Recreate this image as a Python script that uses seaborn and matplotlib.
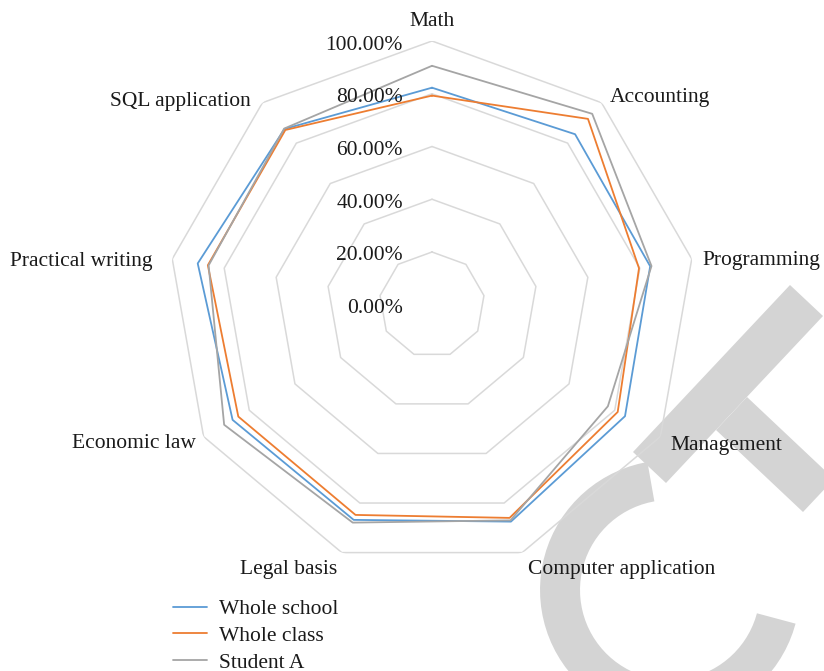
import numpy as np
import pandas as pd
import matplotlib
matplotlib.use("Agg")
import matplotlib.pyplot as plt
from matplotlib.patches import Polygon
import seaborn as sns

# Subject scores (share of full marks)
categories = ["Math", "Accounting", "Programming", "Management",
              "Computer application", "Legal basis", "Economic law",
              "Practical writing", "SQL application"]
whole_school = [0.823, 0.844, 0.840, 0.845, 0.875, 0.868, 0.873, 0.902, 0.870]
whole_class = [0.793, 0.920, 0.797, 0.813, 0.860, 0.848, 0.848, 0.863, 0.865]
student_a = [0.906, 0.945, 0.845, 0.770, 0.870, 0.879, 0.910, 0.860, 0.872]
series_names = ["Whole school", "Whole class", "Student A"]
ring_levels = [0.0, 0.2, 0.4, 0.6, 0.8, 1.0]
ring_labels = ["0.00%", "20.00%", "40.00%", "60.00%", "80.00%", "100.00%"]

colors = {"Whole school": "#5B9BD5", "Whole class": "#ED7D31", "Student A": "#A5A5A5"}
grid_color = "#D9D9D9"
FS = 15.5

sns.set_theme(style="white")
plt.rcParams["font.family"] = ["Liberation Serif", "DejaVu Serif"]
plt.rcParams["text.color"] = "#1a1a1a"

W, H = 824, 671
fig = plt.figure(figsize=(W / 100, H / 100), dpi=100)
fig.patch.set_facecolor("white")


def fpos(x, y):
    return (x / W, 1 - y / H)


# Background watermark letters (pixel outlines, y measured from the top)
wm = "#D4D4D4"
letter_t = [
    [(633, 452), (790, 285), (823, 316), (666, 483)],
    [(747, 397), (834, 479), (803, 512), (716, 430)],
]
arc_deg = np.linspace(100, 345, 60)
c_out = [(670 + 130 * np.cos(np.radians(a)), 590 - 130 * np.sin(np.radians(a))) for a in arc_deg]
c_in = [(670 + 90 * np.cos(np.radians(a)), 590 - 90 * np.sin(np.radians(a))) for a in arc_deg[::-1]]
for pts in letter_t + [c_out + c_in]:
    fig.add_artist(Polygon([fpos(*p) for p in pts], closed=True,
                           transform=fig.transFigure, facecolor=wm,
                           edgecolor="none", zorder=-5))

cx, cy, R = 432, 304.75, 263.75
ax = fig.add_axes([(cx - R) / W, (H - cy - R) / H, 2 * R / W, 2 * R / H],
                  projection="polar")
ax.set_theta_offset(np.pi / 2)
ax.set_theta_direction(-1)
ax.set_ylim(0, 1)
ax.grid(False)
ax.spines["polar"].set_visible(False)
ax.set_xticks([])
ax.set_yticks([])
ax.patch.set_alpha(0)

n = len(categories)
angles = np.linspace(0, 2 * np.pi, n, endpoint=False)
closed_angles = np.append(angles, 2 * np.pi)

# Polygonal gridlines
for lvl in ring_levels[1:]:
    ax.plot(closed_angles, [lvl] * (n + 1), color=grid_color, lw=1.1, zorder=1)

# Series polygons
rows = []
for name, vals in zip(series_names, [whole_school, whole_class, student_a]):
    vv = list(vals) + [vals[0]]
    for i, (t, v) in enumerate(zip(closed_angles, vv)):
        rows.append({"series": name, "theta": t, "value": v, "order": i})
df = pd.DataFrame(rows)
sns.lineplot(data=df, x="theta", y="value", hue="series", hue_order=series_names,
             palette=colors, sort=False, estimator=None,
             lw=1.3, ax=ax, legend=True, zorder=3)
ax.set_xlabel("")
ax.set_ylabel("")
handles, labels = ax.get_legend_handles_labels()
ax.get_legend().remove()

# Radial value labels
for lvl, lab in zip(ring_levels, ring_labels):
    ax.annotate(lab, xy=(0, lvl), xytext=(-29, -4), textcoords="offset pixels",
                ha="right", va="center", fontsize=FS)

# Category labels around the outer ring
label_place = [
    ("center", 0, 20), ("left", 8, 5), ("left", 11, -2), ("left", 10, -9),
    ("left", 6, -17), ("right", -5, -17), ("right", -8, -7),
    ("right", -20, -3), ("right", -12, 1),
]
for t, cat, (ha, dx, dy) in zip(angles, categories, label_place):
    ax.annotate(cat, xy=(t, 1.0), xytext=(dx, dy), textcoords="offset pixels",
                ha=ha, va="center", fontsize=FS)

fig.legend(handles, labels, loc="upper left", bbox_to_anchor=fpos(173, 599),
           frameon=False, borderaxespad=0, borderpad=0, fontsize=FS,
           handlelength=1.6, handletextpad=0.55, labelspacing=0.32)

fig.savefig("out.png", dpi=100)
